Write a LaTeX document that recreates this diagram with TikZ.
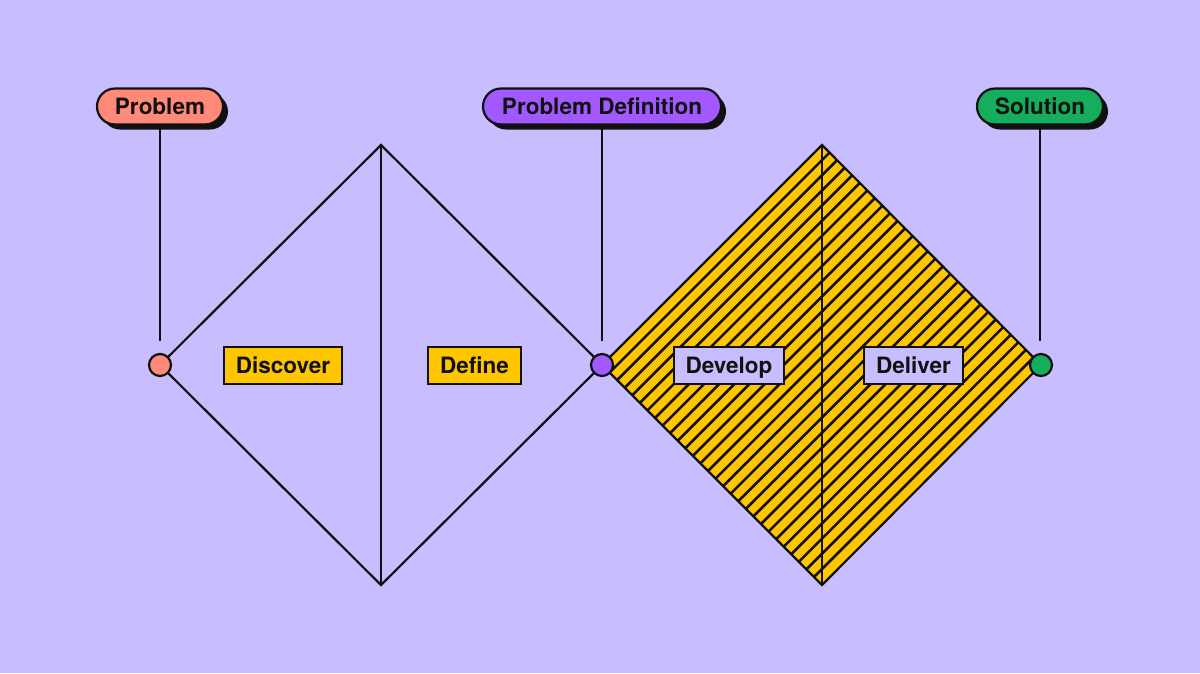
\documentclass[tikz,border=0pt]{standalone}
\usepackage{fontspec}
\setmainfont{TeX Gyre Heros}
\usetikzlibrary{shadows}
\definecolor{bg}{HTML}{C8BDFE}
\definecolor{ylw}{HTML}{FFC600}
\definecolor{salmon}{HTML}{FF8A7A}
\definecolor{purp}{HTML}{A259FF}
\definecolor{grn}{HTML}{14AE5C}
\definecolor{ink}{HTML}{111111}
\begin{document}
\begin{tikzpicture}[x=1pt,y=-1pt,
  edge/.style={draw=ink, line width=2.2pt, line join=miter},
  stripe/.style={draw=ink, line width=2.6pt},
  lbl/.style={font=\fontsize{22.5}{27}\selectfont\bfseries, text=ink, text height=16pt, text depth=0pt},
  pill/.style={lbl, draw=ink, line width=2.2pt, rounded corners=18pt, minimum height=36pt, inner sep=0pt,
    drop shadow={shadow xshift=5pt, shadow yshift=-5pt, fill=ink, opacity=1}},
  tag/.style={lbl, draw=ink, line width=2.2pt, minimum height=37pt, inner sep=0pt},
  dot/.style={circle, draw=ink, line width=2.2pt, minimum size=22pt, inner sep=0pt}]
\fill[bg] (0,0) rectangle (1200,673);
\useasboundingbox (0,0) rectangle (1200,673);
\coordinate (L1) at (160,365);
\coordinate (T1) at (381,145);
\coordinate (B1) at (381,585);
\coordinate (M) at (602,365);
\coordinate (T2) at (822,145);
\coordinate (B2) at (822,585);
\coordinate (R2) at (1041,365);
% hatched right diamond
\fill[ylw] (M) -- (T2) -- (R2) -- (B2) -- cycle;
\begin{scope}
\clip (M) -- (T2) -- (R2) -- (B2) -- cycle;
\foreach \k in {1,...,28} {
  \pgfmathsetmacro\c{967+\k*15.14}
  \draw[stripe] (\c-100,100) -- (\c-700,700);
}
\end{scope}
% outlines
\draw[edge] (L1) -- (T1) -- (M) -- (B1) -- cycle;
\draw[edge] (T1) -- (B1);
\draw[edge] (M) -- (T2) -- (R2) -- (B2) -- cycle;
\draw[edge] (T2) -- (B2);
% top labels
\node[pill, fill=salmon, minimum width=126pt] (p1) at (160,106.5) {Problem};
\node[pill, fill=purp, minimum width=238pt] (p2) at (602,106.5) {Problem Definition};
\node[pill, fill=grn, minimum width=126pt] (p3) at (1040,106.5) {Solution};
\coordinate (e1) at (160,341);
\coordinate (e2) at (602,341);
\coordinate (e3) at (1040,341);
\draw[edge] (p1.south) -- (e1);
\draw[edge] (p2.south) -- (e2);
\draw[edge] (p3.south) -- (e3);
% phase tags
\node[tag, fill=ylw, minimum width=118pt] (dis) at (283,365.5) {Discover};
\node[tag, fill=ylw, minimum width=93pt] (def) at (474.5,365.5) {Define};
\node[tag, fill=bg, minimum width=110pt] (dev) at (729,365.5) {Develop};
\node[tag, fill=bg, minimum width=99pt] (del) at (913.5,365.5) {Deliver};
% dots
\node[dot, fill=salmon] (c1) at (L1) {};
\node[dot, fill=purp] (c2) at (M) {};
\node[dot, fill=grn] (c3) at (R2) {};
\end{tikzpicture}
\end{document}
